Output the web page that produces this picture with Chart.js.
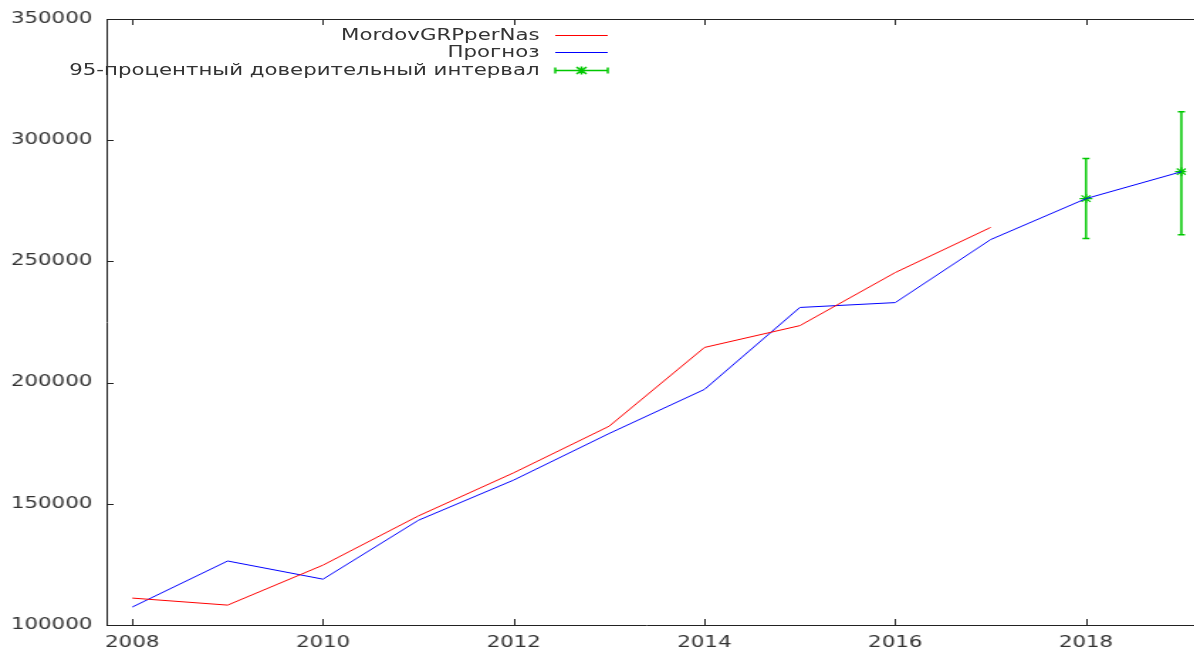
<!DOCTYPE html>
<html>
<head>
<meta charset="utf-8">
<script src="https://cdn.jsdelivr.net/npm/chart.js@4"></script>
<style>
  html, body { margin: 0; padding: 0; background: #fff; overflow: hidden; }
  /* the original picture is stretched sideways, so the whole chart is too */
  #wrap { position: relative; width: 841px; height: 650px; transform: scaleX(1.42); transform-origin: 0 0; }
  .leg { position: absolute; left: 0; width: 380px; text-align: right; font: 15px "DejaVu Sans", sans-serif; line-height: 18px; color: #333; white-space: nowrap; }
</style>
</head>
<body>
<div id="wrap">
  <canvas id="chart" width="841" height="650"></canvas>
  <div class="leg" style="top:26px">MordovGRPperNas</div>
  <div class="leg" style="top:43px">Прогноз</div>
  <div class="leg" style="top:61px">95-процентный доверительный интервал</div>
</div>
<script>
// data
const years = [2008, 2009, 2010, 2011, 2012, 2013, 2014, 2015, 2016, 2017, 2018, 2019];
const grpPerNas = [111100, 108200, 124700, 145000, 162800, 182000, 214500, 223500, 245400, 264000];
const forecast = [107400, 126400, 118900, 143200, 159800, 179000, 197200, 231000, 233000, 259000, 275900, 287000];
const ciYears = [2018, 2019];
const ciLow = [259400, 261000];
const ciHigh = [292400, 311700];
const xTicks = [2008, 2010, 2012, 2014, 2016, 2018];
const legendLabels = ['MordovGRPperNas', 'Прогноз', '95-процентный доверительный интервал'];

const RED = '#ff0000', BLUE = '#0000ff', GREEN = '#00c800', AXIS = '#222', TEXT = '#333';
const ciMid = ciYears.map(y => forecast[years.indexOf(y)]);

// error bars + inward ticks + top border + legend samples
const gnuplotLook = {
    id: 'gnuplotLook',
    beforeDatasetsDraw(chart) {
        const ctx = chart.ctx, xs = chart.scales.x, ys = chart.scales.y;
        ctx.save();
        ctx.strokeStyle = GREEN;
        ctx.lineWidth = 1.5;
        ciYears.forEach((yr, i) => {
            const x = xs.getPixelForValue(yr);
            const lo = ys.getPixelForValue(ciLow[i]), hi = ys.getPixelForValue(ciHigh[i]);
            ctx.beginPath();
            ctx.moveTo(x, lo); ctx.lineTo(x, hi);
            ctx.moveTo(x - 2.5, lo); ctx.lineTo(x + 2.5, lo);
            ctx.moveTo(x - 2.5, hi); ctx.lineTo(x + 2.5, hi);
            ctx.stroke();
        });
        ctx.restore();
    },
    afterDraw(chart) {
        const ctx = chart.ctx, a = chart.chartArea, xs = chart.scales.x, ys = chart.scales.y;
        ctx.save();
        ctx.strokeStyle = AXIS;
        ctx.lineWidth = 1;
        ctx.beginPath();
        ctx.moveTo(a.left, a.top + 0.5); ctx.lineTo(chart.width, a.top + 0.5);
        ctx.moveTo(a.right, a.bottom + 0.5); ctx.lineTo(chart.width, a.bottom + 0.5);
        xs.ticks.forEach(t => {
            const x = Math.round(xs.getPixelForValue(t.value)) + 0.5;
            ctx.moveTo(x, a.bottom); ctx.lineTo(x, a.bottom - 6);
            ctx.moveTo(x, a.top); ctx.lineTo(x, a.top + 6);
        });
        ys.ticks.forEach(t => {
            const y = Math.round(ys.getPixelForValue(t.value)) + 0.5;
            ctx.moveTo(a.left, y); ctx.lineTo(a.left + 5, y);
        });
        ctx.stroke();

        // legend samples, next to the html labels
        const x0 = 391, x1 = 428, rows = [35, 52, 70];
        ctx.lineWidth = 1;
        ctx.strokeStyle = RED;
        ctx.beginPath(); ctx.moveTo(x0, rows[0] + 0.5); ctx.lineTo(x1, rows[0] + 0.5); ctx.stroke();
        ctx.strokeStyle = BLUE;
        ctx.beginPath(); ctx.moveTo(x0, rows[1] + 0.5); ctx.lineTo(x1, rows[1] + 0.5); ctx.stroke();
        ctx.strokeStyle = GREEN;
        ctx.lineWidth = 1.5;
        const yr = rows[2] + 0.5, xm = (x0 + x1) / 2;
        ctx.beginPath();
        ctx.moveTo(x0, yr); ctx.lineTo(x1, yr);
        ctx.moveTo(x0, yr - 3); ctx.lineTo(x0, yr + 3);
        ctx.moveTo(x1, yr - 3); ctx.lineTo(x1, yr + 3);
        ctx.moveTo(xm - 3.5, yr - 3.5); ctx.lineTo(xm + 3.5, yr + 3.5);
        ctx.moveTo(xm - 3.5, yr + 3.5); ctx.lineTo(xm + 3.5, yr - 3.5);
        ctx.moveTo(xm, yr - 4); ctx.lineTo(xm, yr + 4);
        ctx.stroke();
        ctx.restore();
    }
};

new Chart(document.getElementById('chart').getContext('2d'), {
    type: 'line',
    data: {
        datasets: [
            { label: legendLabels[0], data: grpPerNas.map((v, i) => ({ x: years[i], y: v })), borderColor: RED, borderWidth: 1, pointRadius: 0, fill: false, tension: 0 },
            { label: legendLabels[1], data: forecast.map((v, i) => ({ x: years[i], y: v })), borderColor: BLUE, borderWidth: 1, pointRadius: 0, fill: false, tension: 0 },
            { label: legendLabels[2], data: ciMid.map((v, i) => ({ x: ciYears[i], y: v })), showLine: false, pointStyle: 'star', pointRadius: 4.5, borderColor: GREEN, borderWidth: 1.2, backgroundColor: GREEN }
        ]
    },
    options: {
        responsive: false,
        animation: false,
        layout: { padding: { top: 19, left: 0, right: 0, bottom: 0 } },
        plugins: { legend: { display: false }, tooltip: { enabled: false } },
        scales: {
            x: {
                type: 'linear',
                min: 2007.73,
                max: 2019.05,
                afterBuildTicks: scale => { scale.ticks = xTicks.map(v => ({ value: v })); },
                afterFit: scale => { scale.height = 25; },
                grid: { display: false, drawTicks: false },
                border: { display: true, color: AXIS, width: 1 },
                ticks: { padding: 9, color: TEXT, font: { family: 'DejaVu Sans', size: 15 }, callback: v => String(v), maxRotation: 0 }
            },
            y: {
                min: 100000,
                max: 350000,
                afterFit: scale => { scale.width = 75; },
                grid: { display: false, drawTicks: false },
                border: { display: true, color: AXIS, width: 1 },
                ticks: { stepSize: 50000, padding: 10, color: TEXT, font: { family: 'DejaVu Sans', size: 15 }, callback: v => String(v) }
            }
        }
    },
    plugins: [gnuplotLook]
});
</script>
</body>
</html>
